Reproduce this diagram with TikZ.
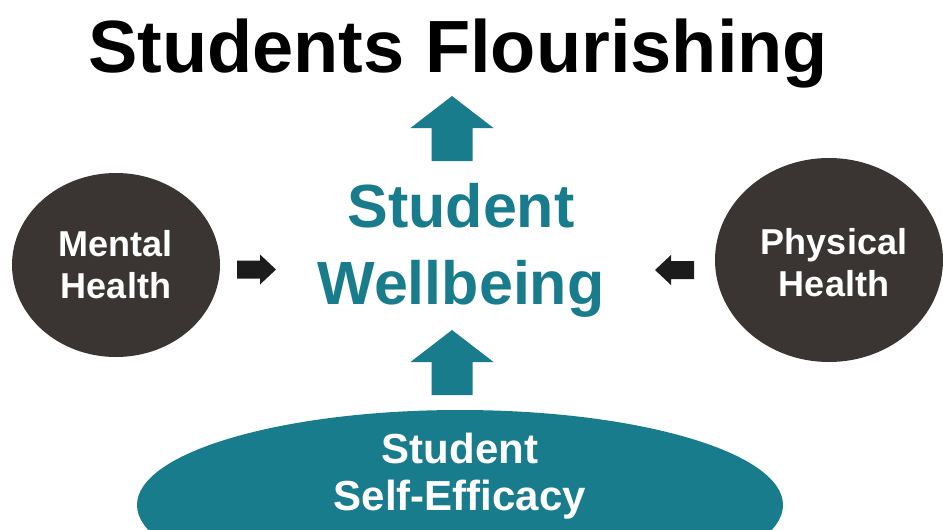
\documentclass[tikz,border=0pt]{standalone}
\usepackage{fontspec}
\setmainfont{Liberation Sans}
\usetikzlibrary{shapes.geometric}

\definecolor{tealblue}{RGB}{24,124,141}
\definecolor{darkdisc}{RGB}{58,53,51}
\definecolor{arrowblack}{RGB}{28,28,28}

\tikzset{
  disc/.style={ellipse, fill=darkdisc, text=white, inner sep=0pt, align=center,
    font=\bfseries\fontsize{27}{31.5}\selectfont},
  pics/uparrow/.style={code={
    \fill[tealblue] (0,0) -- (41.5,32) -- (20.5,32) -- (20.5,65)
      -- (-20.5,65) -- (-20.5,32) -- (-41.5,32) -- cycle;}},
  pics/sidearrow/.style={code={
    \fill[arrowblack] (0,0) -- (-16,-15) -- (-16,-9) -- (-39,-9)
      -- (-39,9) -- (-16,9) -- (-16,15) -- cycle;}}
}

\begin{document}
\begin{tikzpicture}[x=0.75pt, y=-0.75pt]
  \useasboundingbox (0,0) rectangle (943,529);
  \clip (0,0) rectangle (943,529);
  \fill[white] (0,0) rectangle (943,529);

  % heading
  \node[anchor=base, inner sep=0pt, font=\bfseries\fontsize{55.5}{60}\selectfont]
    (title) at (458,72) {Students Flourishing};

  % central concept
  \node[text=tealblue, inner sep=0pt, align=center,
        font=\bfseries\fontsize{45.75}{57.75}\selectfont]
    (wellbeing) at (461,250.5) {Student\\Wellbeing};

  % contributing factors
  \node[disc, minimum width=156pt, minimum height=138pt] (mental) at (116,265) {Mental\\Health};
  \node[disc, minimum width=171pt, minimum height=153pt] (physical) at (829,260) {};
  \node[text=white, inner sep=0pt, align=center,
        font=\bfseries\fontsize{27}{31.5}\selectfont]
    (physicaltext) at (834,263) {Physical\\Health};

  % foundation
  \node[ellipse, fill=tealblue, inner sep=0pt, minimum width=484.5pt, minimum height=142.5pt]
    (efficacy) at (460,505) {};
  \node[text=white, inner sep=0pt, align=center,
        font=\bfseries\fontsize{31.5}{35.25}\selectfont]
    (efficacytext) at (460,476) {Student\\Self-Efficacy};

  % arrows
  \pic at (452,96) {uparrow};
  \pic at (452,330) {uparrow};
  \pic at (276,269.5) {sidearrow};
  \pic[xscale=-1] at (655,270) {sidearrow};
\end{tikzpicture}
\end{document}
